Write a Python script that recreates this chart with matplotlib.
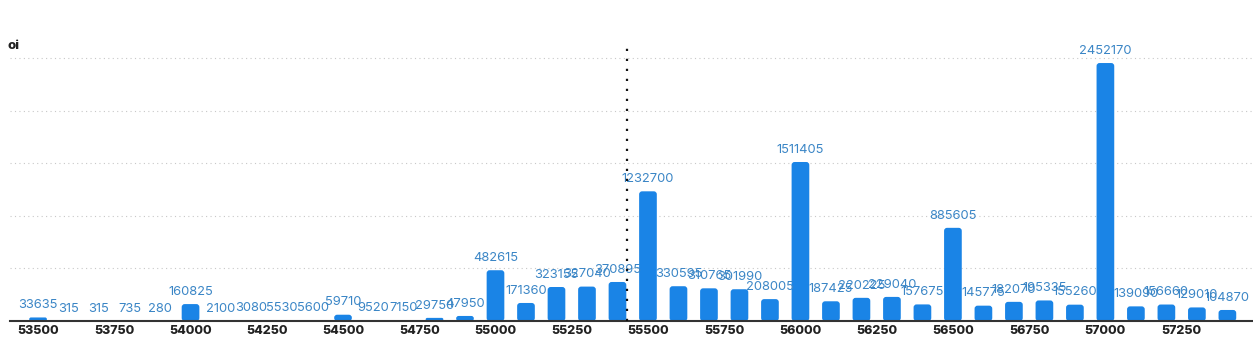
import matplotlib
matplotlib.use("Agg")
import matplotlib.pyplot as plt
from matplotlib.patches import FancyBboxPatch

strikes = [53500, 53600, 53700, 53800, 53900, 54000, 54100, 54200, 54300, 54400,
           54500, 54600, 54700, 54800, 54900, 55000, 55100, 55200, 55300, 55400,
           55500, 55600, 55700, 55800, 55900, 56000, 56100, 56200, 56300, 56400,
           56500, 56600, 56700, 56800, 56900, 57000, 57100, 57200, 57300, 57400]
oi = [33635, 315, 315, 735, 280, 160825, 2100, 3080, 5530, 5600,
      59710, 9520, 7150, 29750, 47950, 482615, 171360, 323155, 327040, 370895,
      1232700, 330595, 310765, 301990, 208005, 1511405, 187425, 220225, 229040, 157675,
      885605, 145775, 182070, 195335, 155260, 2452170, 139090, 156660, 129010, 104870]
tick_values = [53500, 53750, 54000, 54250, 54500, 54750, 55000, 55250, 55500,
               55750, 56000, 56250, 56500, 56750, 57000, 57250]
spot = 55430
y_title = "oi"

plt.rcParams['font.family'] = ['Inter', 'DejaVu Sans']
fig = plt.figure(figsize=(12.53, 3.40), dpi=100)
ax = fig.add_axes([10/1253, 19/340, 1243/1253, (321-48)/340])

xmin, xmax = 53408, 57484
ymax = 2595000
ax.set_xlim(xmin, xmax)
ax.set_ylim(0, ymax)

bar_color = "#1a84e6"
label_color = "#3b86c6"
bw = 58
px_x = (xmax - xmin) / 1243.0
px_y = ymax / (321 - 48)
r_x = 3 * px_x
aspect = px_y / px_x
for s, v in zip(strikes, oi):
    h = v
    rs = min(r_x, (h / aspect) / 2.0)
    p = FancyBboxPatch((s - bw/2, 0), bw, h,
                       boxstyle=f"round,pad=0,rounding_size={rs}",
                       mutation_aspect=aspect, linewidth=0,
                       facecolor=bar_color, zorder=3)
    ax.add_patch(p)
    ax.annotate(str(v), (s, h), xytext=(0, 4.5), textcoords="offset points",
                ha="center", va="bottom", fontsize=9.3, color=label_color, zorder=4)

ax.set_yticks([0, 500000, 1000000, 1500000, 2000000, 2500000])
ax.yaxis.grid(True, linestyle=(0, (1, 3)), color="#c8c8c8", linewidth=0.8)
ax.set_axisbelow(True)
ax.tick_params(axis="y", left=False, labelleft=False)
ax.set_xticks(tick_values)
ax.set_xticklabels([str(t) for t in tick_values], fontsize=9.0, fontweight="heavy", color="#222222")
ax.tick_params(axis="x", length=0, pad=3)
for sp in ["top", "right", "left"]:
    ax.spines[sp].set_visible(False)
ax.spines["bottom"].set_color("#333333")
ax.spines["bottom"].set_linewidth(1.5)
ax.spines["bottom"].set_zorder(5)

ax.axvline(spot, color="#111111", linestyle=(0, (1, 3.5)), linewidth=1.6, zorder=6)

fig.text(8/1253, 1 - 46/340, y_title, fontsize=9.5, fontweight="heavy", color="#222222",
         ha="left", va="center")

fig.savefig("out.png", dpi=100)
